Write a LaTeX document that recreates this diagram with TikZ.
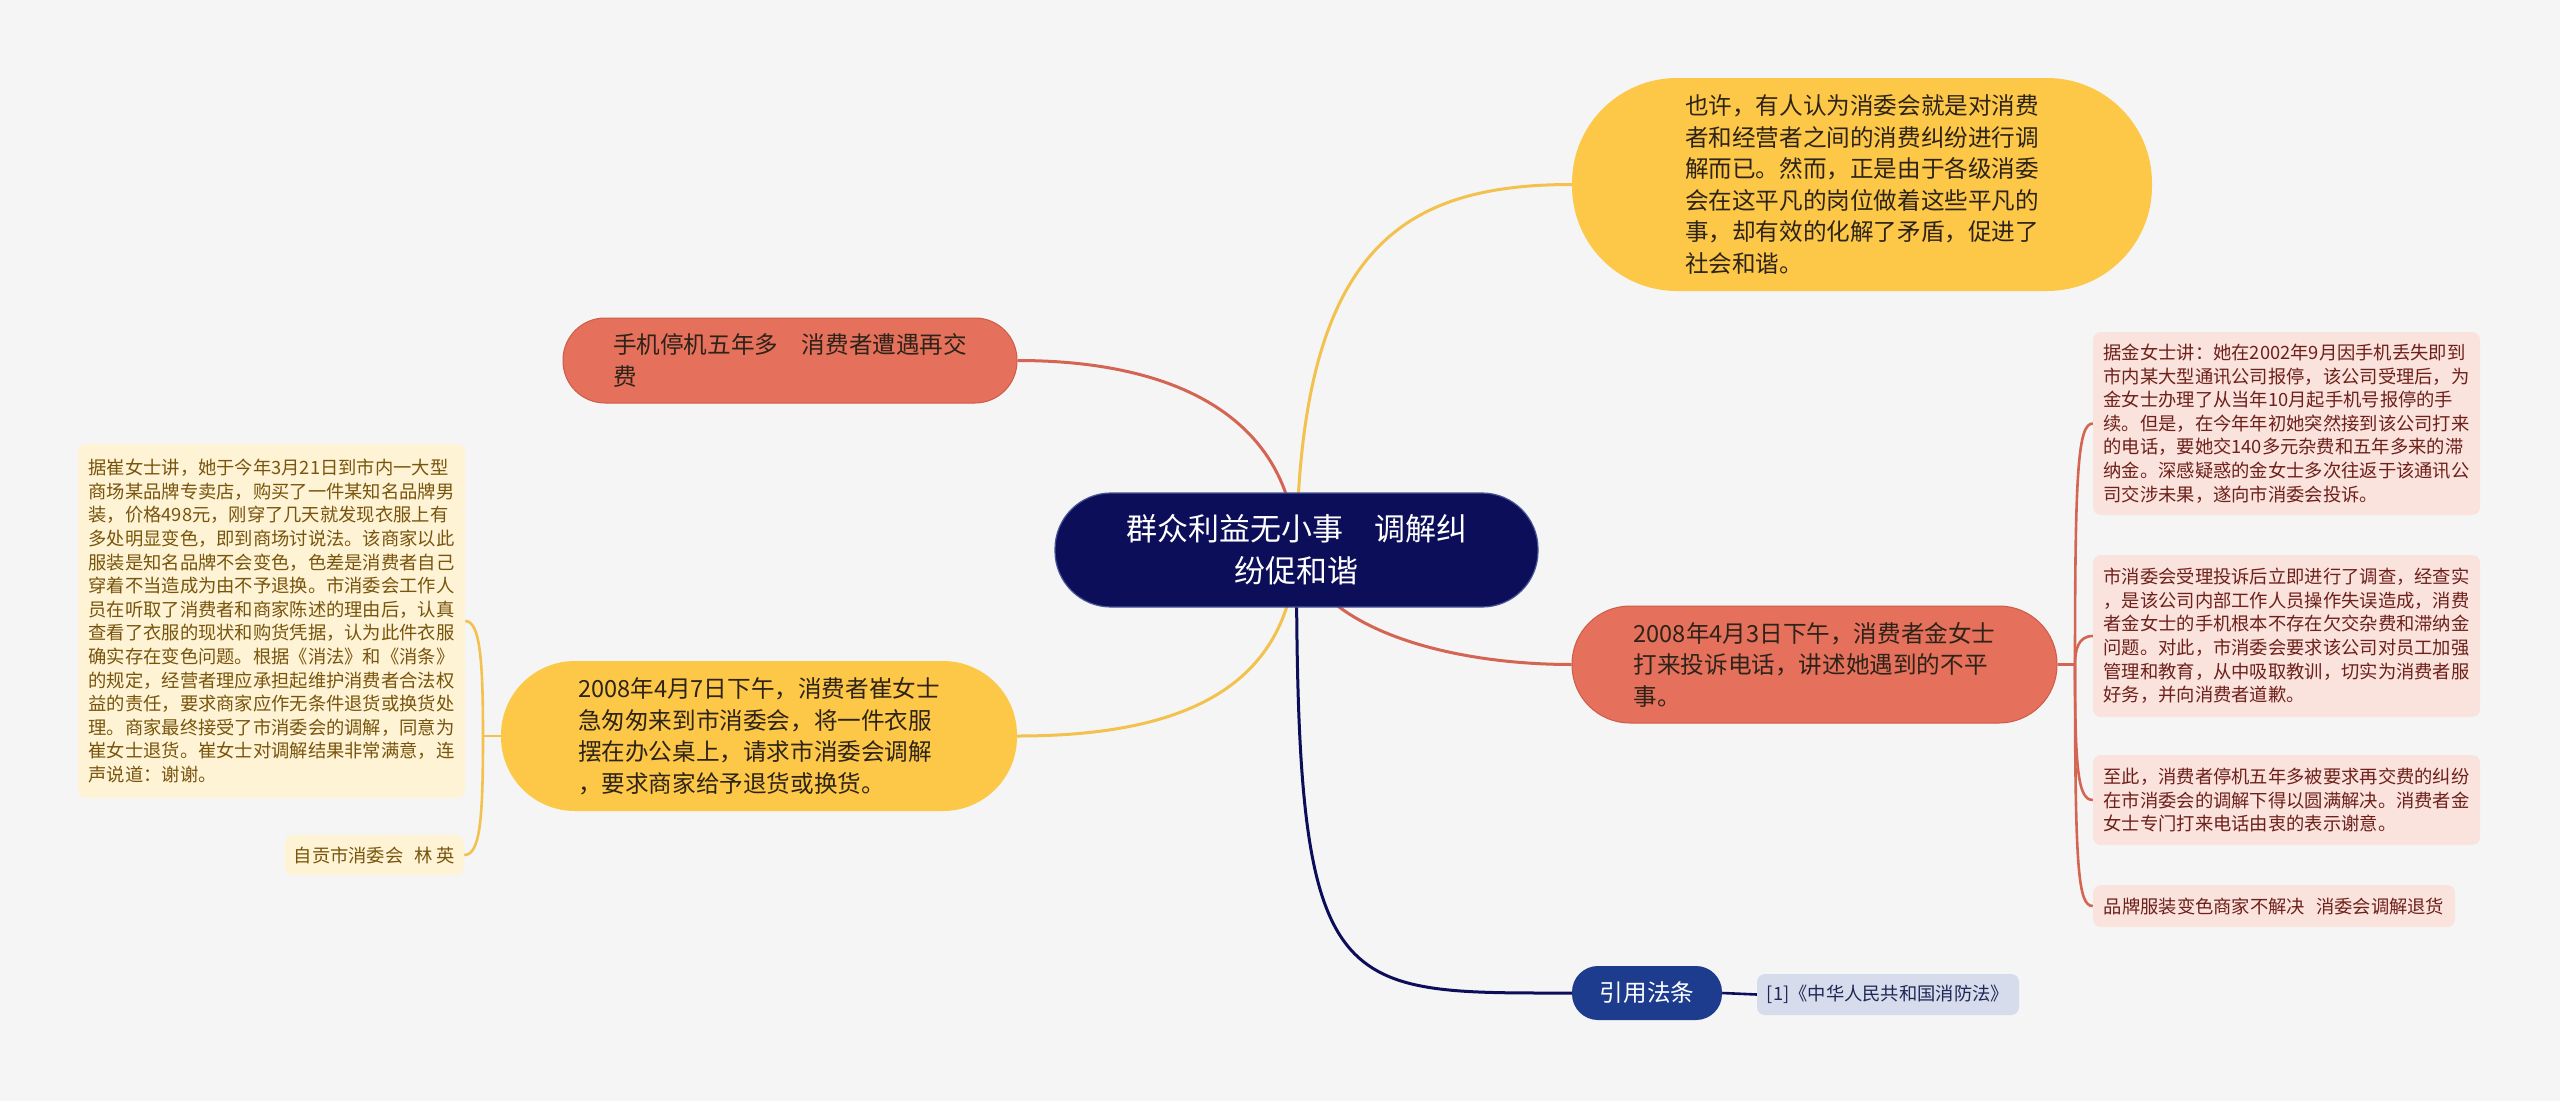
\documentclass[tikz,border=0pt]{standalone}
\usepackage{fontspec}
\setmainfont{Noto Sans CJK SC}
\usetikzlibrary{backgrounds}
\definecolor{bgc}{RGB}{245,245,246}
\definecolor{navy}{RGB}{12,14,90}
\definecolor{navyedge}{RGB}{70,85,150}
\definecolor{yel}{RGB}{253,200,72}
\definecolor{yline}{RGB}{242,193,78}
\definecolor{redn}{RGB}{229,112,92}
\definecolor{rededge}{RGB}{205,92,72}
\definecolor{rline}{RGB}{211,101,82}
\definecolor{blun}{RGB}{30,60,142}
\definecolor{lawbg}{RGB}{214,220,236}
\definecolor{lawtx}{RGB}{30,40,85}
\definecolor{beige}{RGB}{255,243,214}
\definecolor{beigetx}{RGB}{120,85,12}
\definecolor{pink}{RGB}{250,226,221}
\definecolor{pinktx}{RGB}{110,32,26}
\definecolor{darktx}{RGB}{45,35,25}
\tikzset{
  bodyfont/.style={font=\fontsize{23.6}{31.5}\selectfont},
  smallfont/.style={font=\fontsize{18.3}{23.6}\selectfont},
  capsule/.style={inner sep=0pt, align=left, bodyfont},
  leaf/.style={inner sep=0pt, align=left, smallfont, rounded corners=8pt},
  conn/.style={line width=3pt},
  subconn/.style={line width=2.6pt},
}
\begin{document}
\begin{tikzpicture}[x=1pt,y=-1pt]
\useasboundingbox (0,0) rectangle (2560,1101);

% central
\node[fill=navy, draw=navyedge, line width=1.2pt, text=white, align=center,
      font=\fontsize{31}{42}\selectfont, inner sep=0pt,
      minimum width=483pt, minimum height=114pt, rounded corners=56pt]
  (c) at (1296.5,550) {群众利益无小事\hspace{1em}调解纠\\纷促和谐};

% main branches
\node[capsule, fill=yel, text=darktx, minimum width=580pt, minimum height=213pt, rounded corners=105pt]
  (t) at (1862,184.5) {也许，有人认为消委会就是对消费\\者和经营者之间的消费纠纷进行调\\解而已。然而，正是由于各级消委\\会在这平凡的岗位做着这些平凡的\\事，却有效的化解了矛盾，促进了\\社会和谐。};

\node[capsule, fill=redn, draw=rededge, line width=1pt, text=darktx, minimum width=454pt, minimum height=85pt, rounded corners=42pt]
  (r1) at (790,360.5) {手机停机五年多\hspace{1em}消费者遭遇再交\\费};

\node[capsule, fill=yel, text=darktx, minimum width=516pt, minimum height=150pt, rounded corners=74pt]
  (y1) at (759,736) {2008年4月7日下午，消费者崔女士\\急匆匆来到市消委会，将一件衣服\\摆在办公桌上，请求市消委会调解\\，要求商家给予退货或换货。};

\node[capsule, fill=redn, draw=rededge, line width=1pt, text=darktx, minimum width=485pt, minimum height=117pt, rounded corners=58pt]
  (r2) at (1814.5,664.5) {2008年4月3日下午，消费者金女士\\打来投诉电话，讲述她遇到的不平\\事。};

\node[capsule, fill=blun, text=white, minimum width=150pt, minimum height=54pt, rounded corners=26pt]
  (law) at (1647,993) {引用法条};

% leaves
\node[leaf, fill=beige, text=beigetx, minimum width=387pt, minimum height=354pt]
  (l1) at (271.5,621) {据崔女士讲，她于今年3月21日到市内一大型\\商场某品牌专卖店，购买了一件某知名品牌男\\装，价格498元，刚穿了几天就发现衣服上有\\多处明显变色，即到商场讨说法。该商家以此\\服装是知名品牌不会变色，色差是消费者自己\\穿着不当造成为由不予退换。市消委会工作人\\员在听取了消费者和商家陈述的理由后，认真\\查看了衣服的现状和购货凭据，认为此件衣服\\确实存在变色问题。根据《消法》和《消条》\\的规定，经营者理应承担起维护消费者合法权\\益的责任，要求商家应作无条件退货或换货处\\理。商家最终接受了市消委会的调解，同意为\\崔女士退货。崔女士对调解结果非常满意，连\\声说道：谢谢。};

\node[leaf, fill=beige, text=beigetx, minimum width=179pt, minimum height=40pt]
  (l2) at (374.5,855) {自贡市消委会\hspace{0.6em}林 英};

\node[leaf, fill=pink, text=pinktx, minimum width=387pt, minimum height=183pt]
  (pa) at (2286.5,423.5) {据金女士讲：她在2002年9月因手机丢失即到\\市内某大型通讯公司报停，该公司受理后，为\\金女士办理了从当年10月起手机号报停的手\\续。但是，在今年年初她突然接到该公司打来\\的电话，要她交140多元杂费和五年多来的滞\\纳金。深感疑惑的金女士多次往返于该通讯公\\司交涉未果，遂向市消委会投诉。};

\node[leaf, fill=pink, text=pinktx, minimum width=387pt, minimum height=162pt]
  (pb) at (2286.5,636) {市消委会受理投诉后立即进行了调查，经查实\\，是该公司内部工作人员操作失误造成，消费\\者金女士的手机根本不存在欠交杂费和滞纳金\\问题。对此，市消委会要求该公司对员工加强\\管理和教育，从中吸取教训，切实为消费者服\\好务，并向消费者道歉。};

\node[leaf, fill=pink, text=pinktx, minimum width=387pt, minimum height=90pt]
  (pc) at (2286.5,800) {至此，消费者停机五年多被要求再交费的纠纷\\在市消委会的调解下得以圆满解决。消费者金\\女士专门打来电话由衷的表示谢意。};

\node[leaf, fill=pink, text=pinktx, minimum width=362pt, minimum height=42pt]
  (pd) at (2274,906) {品牌服装变色商家不解决\hspace{0.6em}消委会调解退货};

\node[leaf, fill=lawbg, text=lawtx, minimum width=262pt, minimum height=41pt]
  (lawbox) at (1888,994.5) {[1]《中华人民共和国消防法》};

\coordinate (rf) at (2075,664.5);
\coordinate (yf) at (483,736);

\begin{pgfonlayer}{background}
\fill[bgc] (0,0) rectangle (2560,1101);
% central connectors
\draw[conn, yline] (c.center) .. controls (1300,250) and (1400,184.5) .. (t.west);
\draw[conn, rline] (c.center) .. controls (1290,420) and (1180,360.5) .. (r1.east);
\draw[conn, yline] (c.center) .. controls (1290,690) and (1180,736) .. (y1.east);
\draw[conn, rline] (c.center) .. controls (1320,630) and (1450,664.5) .. (r2.west);
\draw[conn, navy] (c.center) .. controls (1296,1000) and (1330,993) .. (law.west);
\draw[subconn, navy] (law.east) -- (lawbox.west);
% right fork
\draw[subconn, rline] (r2.east) -- (rf);
\draw[subconn, rline] (rf) .. controls (2075,470) and (2078,423.5) .. (pa.west);
\draw[subconn, rline] (rf) .. controls (2075,650) and (2078,636) .. (pb.west);
\draw[subconn, rline] (rf) .. controls (2075,770) and (2078,800) .. (pc.west);
\draw[subconn, rline] (rf) .. controls (2075,870) and (2078,906) .. (pd.west);
% left fork
\draw[subconn, yline] (y1.west) -- (yf);
\draw[subconn, yline] (yf) .. controls (483,660) and (480,621) .. (l1.east);
\draw[subconn, yline] (yf) .. controls (483,820) and (480,855) .. (l2.east);
\end{pgfonlayer}
\end{tikzpicture}
\end{document}
